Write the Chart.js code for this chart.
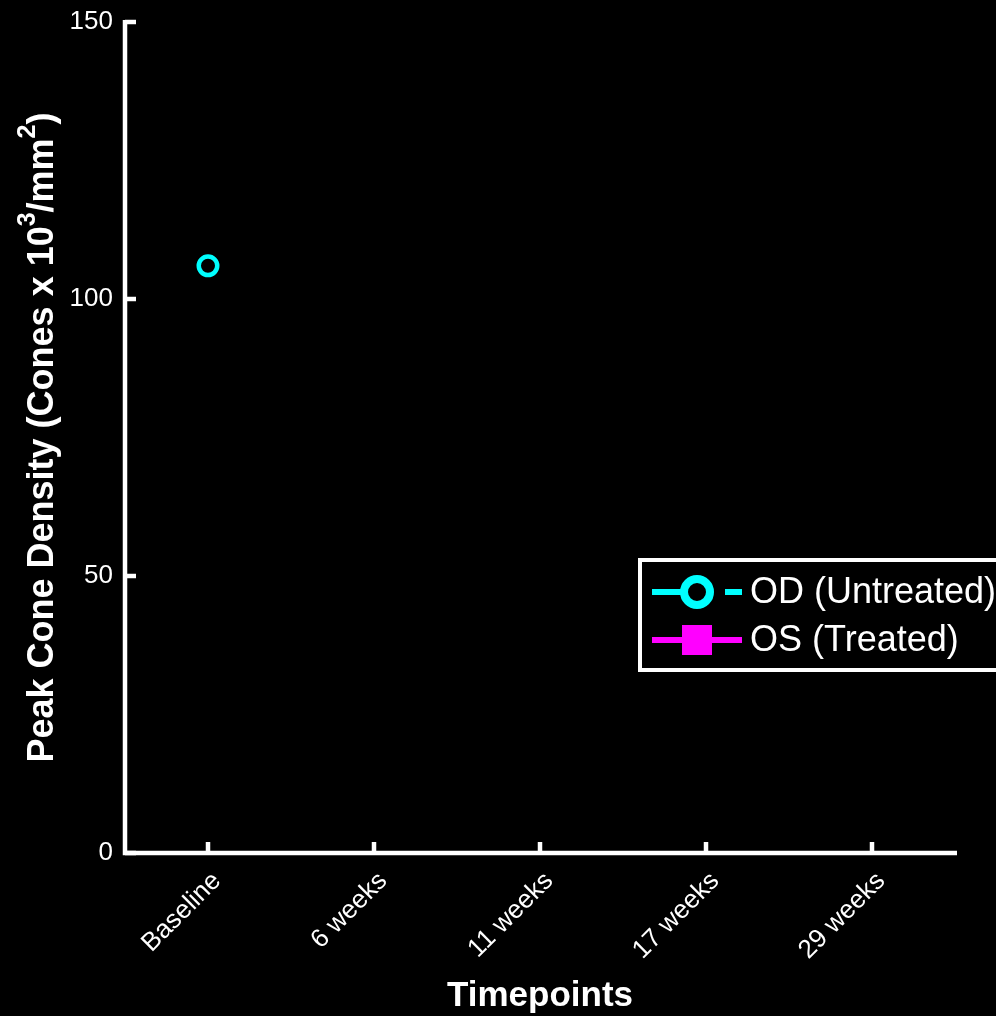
<!DOCTYPE html>
<html>
<head>
<meta charset="utf-8">
<script src="https://cdn.jsdelivr.net/npm/chart.js@4"></script>
<style>
    html, body {
        margin: 0;
        padding: 0;
        background: #000000;
    }

    #coneChart {
        display: block;
    }
</style>
</head>
<body>
<canvas id="coneChart" width="996" height="1016"></canvas>
<script>

const timepoints =
    ['Baseline', '6 weeks', '11 weeks', '17 weeks', '29 weeks'];

const odUntreated =
    [106, null, null, null, null];

const osTreated =
    [null, null, null, null, null];

const yTickValues =
    [0, 50, 100, 150];

// y title pieces: [text, isSuperscript]
const yTitleParts =
    [['Peak Cone Density (Cones x 10', false], ['3', true], ['/mm', false], ['2', true], [')', false]];

const fontFamily =
    "'Liberation Sans', Arial, Helvetica, sans-serif";

// axis lines and inward tick marks, drawn from the scales
const axisPlugin = {

    id: 'inwardAxes',

    afterDatasetsDraw(chart) {

        const ctx = chart.ctx;
        const area = chart.chartArea;
        const xScale = chart.scales.x;
        const yScale = chart.scales.y;

        ctx.save();
        ctx.strokeStyle = '#ffffff';
        ctx.lineWidth = 4.5;
        ctx.lineCap = 'butt';

        ctx.beginPath();
        ctx.moveTo(area.left, area.top - 2);
        ctx.lineTo(area.left, area.bottom);
        ctx.lineTo(area.right + 2, area.bottom);
        ctx.stroke();

        yScale.ticks.forEach((tick, i) => {
            const py = yScale.getPixelForTick(i);
            ctx.beginPath();
            ctx.moveTo(area.left, py);
            ctx.lineTo(area.left + 11, py);
            ctx.stroke();
        });

        xScale.ticks.forEach((tick, i) => {
            const px = xScale.getPixelForTick(i);
            ctx.beginPath();
            ctx.moveTo(px, area.bottom);
            ctx.lineTo(px, area.bottom - 11);
            ctx.stroke();
        });

        ctx.restore();

    }

};

// rotated y title with real superscripts
const yTitlePlugin = {

    id: 'yTitle',

    afterDraw(chart) {

        const ctx = chart.ctx;
        const area = chart.chartArea;
        const mainFont = `bold 36px ${fontFamily}`;
        const supFont = `bold 25px ${fontFamily}`;

        ctx.save();
        ctx.fillStyle = '#ffffff';
        ctx.textBaseline = 'middle';
        ctx.textAlign = 'left';

        const widths = yTitleParts.map(([text, sup]) => {
            ctx.font = sup ? supFont : mainFont;
            return ctx.measureText(text).width;
        });

        const total =
            widths.reduce((a, b) => a + b, 0);

        ctx.translate(43, (area.top + area.bottom) / 2);
        ctx.rotate(-Math.PI / 2);

        let cursor = -total / 2;

        yTitleParts.forEach(([text, sup], i) => {
            ctx.font = sup ? supFont : mainFont;
            ctx.fillText(text, cursor, sup ? -15 : 0);
            cursor += widths[i];
        });

        ctx.restore();

    }

};

// boxed legend in the lower right, partly off the canvas like the original
const boxLegendPlugin = {

    id: 'boxLegend',

    afterDraw(chart) {

        const ctx = chart.ctx;

        ctx.save();

        ctx.fillStyle = '#000000';
        ctx.fillRect(640, 560, 400, 110);
        ctx.strokeStyle = '#ffffff';
        ctx.lineWidth = 4;
        ctx.strokeRect(640, 560, 400, 110);

        chart.data.datasets.forEach((ds, i) => {

            const rowY = 592 + i * 48;

            ctx.strokeStyle = ds.borderColor;
            ctx.lineWidth = 6;
            ctx.setLineDash(ds.legendDash || []);
            ctx.beginPath();
            ctx.moveTo(652, rowY);
            ctx.lineTo(742, rowY);
            ctx.stroke();
            ctx.setLineDash([]);

            if (ds.pointStyle === 'rect') {
                ctx.fillStyle = ds.borderColor;
                ctx.fillRect(682, rowY - 15, 30, 30);
            } else {
                ctx.fillStyle = '#000000';
                ctx.lineWidth = 8;
                ctx.beginPath();
                ctx.arc(697, rowY, 13, 0, Math.PI * 2);
                ctx.fill();
                ctx.stroke();
            }

            ctx.fillStyle = '#ffffff';
            ctx.font = `36px ${fontFamily}`;
            ctx.textAlign = 'left';
            ctx.textBaseline = 'middle';
            ctx.fillText(ds.label, 750, rowY + 1);

        });

        ctx.restore();

    }

};

new Chart(document.getElementById('coneChart'), {

    type: 'line',

    data: {

        labels: timepoints,

        datasets: [

            {
                label: 'OD (Untreated)',
                data: odUntreated,
                borderColor: '#00ffff',
                backgroundColor: 'rgba(0,0,0,0)',
                borderWidth: 6,
                borderDash: [18, 12],
                legendDash: [36, 37],
                pointStyle: 'circle',
                pointRadius: 9.25,
                pointBorderWidth: 4.5,
                pointBackgroundColor: 'rgba(0,0,0,0)',
                pointBorderColor: '#00ffff'
            },

            {
                label: 'OS (Treated)',
                data: osTreated,
                borderColor: '#ff00ff',
                backgroundColor: '#ff00ff',
                borderWidth: 6,
                pointStyle: 'rect',
                pointRadius: 10,
                pointBackgroundColor: '#ff00ff',
                pointBorderColor: '#ff00ff'
            }

        ]

    },

    options: {

        responsive: false,

        animation: false,

        spanGaps: false,

        layout: {
            padding: {
                top: 22,
                right: 41,
                bottom: 0,
                left: 0
            }
        },

        plugins: {
            legend: {
                display: false
            },
            tooltip: {
                enabled: false
            }
        },

        scales: {

            x: {
                type: 'category',
                offset: true,
                grid: {
                    display: false,
                    drawTicks: false
                },
                border: {
                    display: false
                },
                ticks: {
                    color: '#ffffff',
                    minRotation: 45,
                    maxRotation: 45,
                    autoSkip: false,
                    padding: 13,
                    labelOffset: 9,
                    font: {
                        family: fontFamily,
                        size: 26
                    }
                },
                title: {
                    display: true,
                    text: 'Timepoints',
                    color: '#ffffff',
                    padding: {
                        top: 0,
                        bottom: 0
                    },
                    font: {
                        family: fontFamily,
                        size: 35,
                        weight: 'bold',
                        lineHeight: 1.1
                    }
                },
                afterFit(scale) {
                    scale.height = 163;
                    scale.paddingLeft = 0;
                    scale.paddingRight = 0;
                }
            },

            y: {
                min: 0,
                max: 150,
                grid: {
                    display: false,
                    drawTicks: false
                },
                border: {
                    display: false
                },
                afterBuildTicks(scale) {
                    scale.ticks = yTickValues.map(v => ({ value: v }));
                },
                ticks: {
                    color: '#ffffff',
                    padding: 12,
                    font: {
                        family: fontFamily,
                        size: 26
                    }
                },
                title: {
                    display: false
                },
                afterFit(scale) {
                    scale.width = 125;
                    scale.paddingTop = 0;
                    scale.paddingBottom = 0;
                }
            }

        }

    },

    plugins: [axisPlugin, yTitlePlugin, boxLegendPlugin]

});

</script>
</body>
</html>
